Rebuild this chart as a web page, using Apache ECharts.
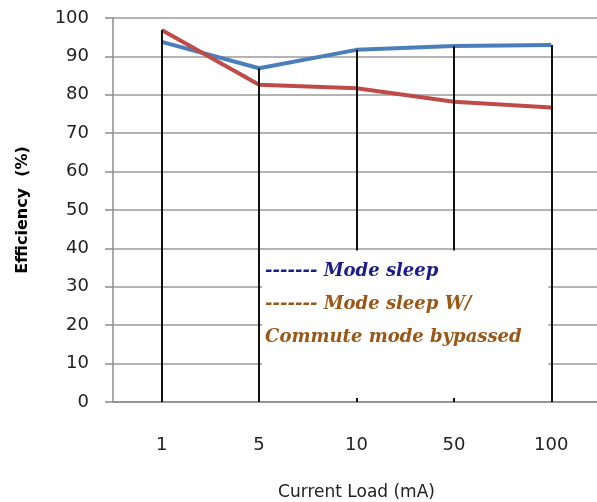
<!DOCTYPE html>
<html>
<head>
<meta charset="utf-8">
<script src="https://cdn.jsdelivr.net/npm/echarts@6/dist/echarts.min.js"></script>
<style>html,body{margin:0;padding:0;background:#fff}#c{width:597px;height:502px}</style>
</head>
<body>
<div id="c"></div>
<script>
var categories = ['1', '5', '10', '50', '100'];
var modeSleep = [93.8, 86.9, 91.7, 92.7, 93.0];
var modeSleepBypassed = [96.9, 82.6, 81.7, 78.2, 76.7];
var yTicks = {min: 0, max: 100, interval: 10};
var legendLines = [
  {text: '------- Mode sleep', color: '#1c1c8c'},
  {text: '------- Mode sleep W/', color: '#9a5718'},
  {text: 'Commute mode bypassed', color: '#9a5718'}
];

var chart = echarts.init(document.getElementById('c'), null, {renderer: 'canvas'});

var dropData = categories.map(function (c, i) {
  var top = Math.max(modeSleep[i], modeSleepBypassed[i]);
  return [{coord: [c, top]}, {coord: [c, yTicks.min]}];
});

var labelFont = '"DejaVu Sans", sans-serif';

chart.setOption({
  animation: false,
  grid: {left: 113, top: 18, width: 487, height: 384, outerBoundsMode: 'none', containLabel: false},
  xAxis: {
    type: 'category',
    data: categories,
    boundaryGap: true,
    axisLine: {show: true, lineStyle: {color: '#8c8c8c', width: 1.5}},
    axisTick: {show: false},
    axisLabel: {margin: 34, fontSize: 18, color: '#222', fontFamily: labelFont},
    name: 'Current Load (mA)',
    nameLocation: 'middle',
    nameGap: 82,
    nameTextStyle: {fontSize: 17, color: '#222', fontFamily: labelFont}
  },
  yAxis: {
    type: 'value',
    min: yTicks.min, max: yTicks.max, interval: yTicks.interval,
    axisLine: {show: true, lineStyle: {color: '#8c8c8c', width: 1.5}},
    axisTick: {show: true, length: 8, lineStyle: {color: '#8c8c8c', width: 1.5}},
    splitLine: {show: true, lineStyle: {color: '#9a9a9a', width: 1.5}},
    axisLabel: {margin: 24, fontSize: 18, color: '#222', fontFamily: labelFont},
    name: 'Efficiency  (%)',
    nameLocation: 'middle',
    nameRotate: 90,
    nameGap: 82,
    nameTextStyle: {fontSize: 16, fontWeight: 'bold', color: '#000', fontFamily: labelFont}
  },
  series: [
    {
      type: 'line', data: modeSleep, symbol: 'none', z: 3,
      lineStyle: {color: '#4a7ebb', width: 4}
    },
    {
      type: 'line', data: modeSleepBypassed, symbol: 'none', z: 3,
      lineStyle: {color: '#be4b48', width: 4},
      markLine: {
        silent: true, symbol: 'none', animation: false,
        label: {show: false},
        lineStyle: {color: '#111', width: 2, type: 'solid'},
        data: dropData
      }
    }
  ]
});

function drawLegend() {
  var p5 = chart.convertToPixel({xAxisIndex: 0}, '5');
  var p100 = chart.convertToPixel({xAxisIndex: 0}, '100');
  var y40 = chart.convertToPixel({yAxisIndex: 0}, 40);
  var y0 = chart.convertToPixel({yAxisIndex: 0}, 0);
  var els = [{
    type: 'rect', z: 100,
    shape: {x: p5 + 3, y: y40 + 2, width: p100 - p5 - 6, height: y0 - y40 - 6},
    style: {fill: '#fff'}
  }];
  legendLines.forEach(function (l, i) {
    els.push({
      type: 'text', z: 101,
      x: p5 + 6, y: y40 + 23 + i * 33,
      style: {
        text: l.text, fill: l.color,
        font: 'italic bold 18px "DejaVu Serif", serif',
        textVerticalAlign: 'middle', verticalAlign: 'middle'
      }
    });
  });
  chart.setOption({graphic: els});
}
drawLegend();
</script>
</body>
</html>
